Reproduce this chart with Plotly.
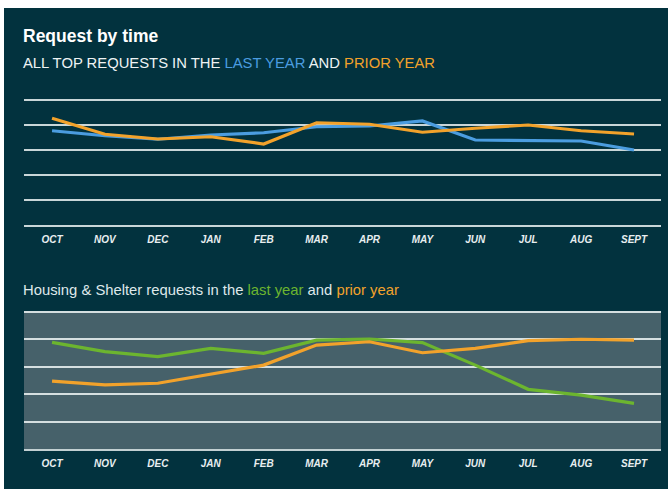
import plotly.graph_objects as go

months = ["OCT", "NOV", "DEC", "JAN", "FEB", "MAR", "APR", "MAY", "JUN", "JUL", "AUG", "SEPT"]

# Top chart: all top requests (relative units, 1 unit = one gridline)
all_last_year = [3.77, 3.57, 3.43, 3.60, 3.69, 3.93, 3.96, 4.16, 3.40, 3.37, 3.36, 3.00]
all_prior_year = [4.27, 3.63, 3.44, 3.53, 3.24, 4.09, 4.03, 3.71, 3.87, 4.00, 3.77, 3.64]

# Bottom chart: housing & shelter requests
housing_last_year = [3.88, 3.54, 3.36, 3.66, 3.48, 3.96, 4.00, 3.87, 3.05, 2.17, 1.96, 1.66]
housing_prior_year = [2.47, 2.33, 2.39, 2.72, 3.05, 3.78, 3.90, 3.50, 3.66, 3.94, 3.99, 3.96]

W, H = 671, 489
BG = "#02323e"
BLUE = "#4b9de0"
ORANGE = "#f2a22b"
GREEN = "#6cb52f"
FONT = "Liberation Sans"

def px(x):
    return x / W

def py(y):
    return 1 - y / H

fig = go.Figure()
fig.add_trace(go.Scatter(x=months, y=all_last_year, mode="lines", line=dict(color=BLUE, width=3.2),
                         xaxis="x", yaxis="y", name="Last year"))
fig.add_trace(go.Scatter(x=months, y=all_prior_year, mode="lines", line=dict(color=ORANGE, width=3.2),
                         xaxis="x", yaxis="y", name="Prior year"))
fig.add_trace(go.Scatter(x=months, y=housing_last_year, mode="lines", line=dict(color=GREEN, width=3.2),
                         xaxis="x2", yaxis="y2", name="Last year (housing)"))
fig.add_trace(go.Scatter(x=months, y=housing_prior_year, mode="lines", line=dict(color=ORANGE, width=3.2),
                         xaxis="x2", yaxis="y2", name="Prior year (housing)"))

xdom = [px(24), px(661)]
tickfont = dict(family=FONT, size=10, color="#e8eef0", style="italic", weight="bold")
xcommon = dict(domain=xdom, range=[-0.53, 11.51], showgrid=False, zeroline=False,
               showline=True, linewidth=2, ticks="outside", ticklen=4, tickcolor="rgba(0,0,0,0)",
               tickfont=tickfont, fixedrange=True)

TOP_EXTRA = 0.06  # small headroom so the top gridline is drawn
fig.update_layout(
    width=W, height=H, autosize=False,
    margin=dict(l=0, r=0, t=0, b=0, pad=0),
    paper_bgcolor="white",
    plot_bgcolor="rgba(0,0,0,0)",
    showlegend=False,
    xaxis=dict(**xcommon, anchor="y", linecolor="#c9d6d8"),
    yaxis=dict(domain=[py(225), py(100 - 25 * TOP_EXTRA)], range=[0, 5 + TOP_EXTRA], dtick=1,
               showgrid=True, gridcolor="#c9d6d8", gridwidth=1.5, zeroline=False,
               showticklabels=False, anchor="x", fixedrange=True),
    xaxis2=dict(**xcommon, anchor="y2", linecolor="#c2d0d2"),
    yaxis2=dict(domain=[py(449), py(311.5 - 27.5 * TOP_EXTRA)], range=[0, 5 + TOP_EXTRA], dtick=1,
                showgrid=True, gridcolor="#d5dfe0", gridwidth=1.5, zeroline=False,
                showticklabels=False, anchor="x2", fixedrange=True),
    shapes=[
        dict(type="rect", xref="paper", yref="paper", x0=px(4), x1=px(668), y0=0, y1=py(8),
             fillcolor=BG, line=dict(width=0), layer="below"),
        dict(type="rect", xref="paper", yref="paper", x0=xdom[0], x1=xdom[1],
             y0=py(449), y1=py(311.5), fillcolor="#46616a", line=dict(width=0), layer="below"),
    ],
    annotations=[
        dict(xref="paper", yref="paper", x=px(21), y=py(36), xanchor="left", yanchor="middle",
             text="<b>Request by time</b>", showarrow=False,
             font=dict(family=FONT, size=17.5, color="white")),
        dict(xref="paper", yref="paper", x=px(21), y=py(63), xanchor="left", yanchor="middle",
             text=("ALL TOP REQUESTS IN THE <span style='color:%s'>LAST YEAR</span> AND "
                   "<span style='color:%s'>PRIOR YEAR</span>") % (BLUE, ORANGE),
             showarrow=False, font=dict(family=FONT, size=14.8, color="#eef3f4")),
        dict(xref="paper", yref="paper", x=px(21), y=py(290), xanchor="left", yanchor="middle",
             text=("Housing &amp; Shelter requests in the <span style='color:%s'>last year</span> and "
                   "<span style='color:%s'>prior year</span>") % (GREEN, ORANGE),
             showarrow=False, font=dict(family=FONT, size=14.8, color="#dfe8ea")),
    ],
)

fig.write_html("out.html", config={"displayModeBar": False},
               post_script="document.body.style.margin='0';document.body.style.overflow='hidden';")
